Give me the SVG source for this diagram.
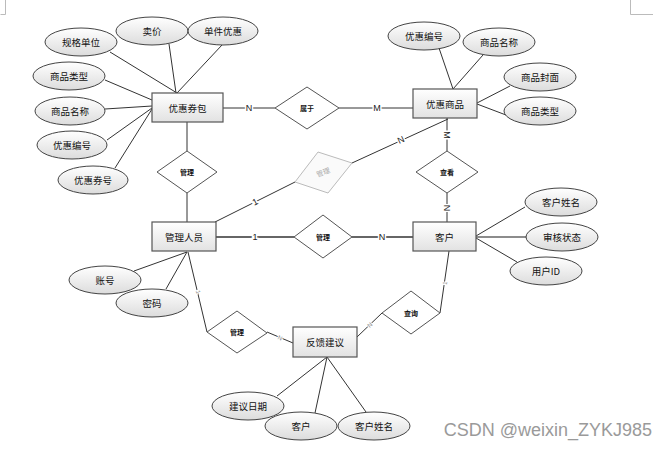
<svg xmlns="http://www.w3.org/2000/svg" width="669" height="449" viewBox="0 0 669 449">
<defs>
<linearGradient id="gE" x1="0" y1="0" x2="0" y2="1"><stop offset="0" stop-color="#ffffff"/><stop offset="1" stop-color="#dcdcdc"/></linearGradient>
<linearGradient id="gR" x1="0" y1="0" x2="0" y2="1"><stop offset="0" stop-color="#ffffff"/><stop offset="1" stop-color="#e2e2e2"/></linearGradient>
<style>
.ent{fill:url(#gR);stroke:#555;stroke-width:1.2}
.att{fill:url(#gE);stroke:#444;stroke-width:1}
.rel{fill:#fff;stroke:#555;stroke-width:1}
.relg{fill:#fafafa;stroke:#bbb;stroke-width:1}
.t{font-family:"Noto Sans CJK SC","Noto Sans",sans-serif;font-size:9.5px;fill:#111;text-anchor:middle;dominant-baseline:central}
.tr{font-family:"Noto Sans CJK SC","Noto Sans",sans-serif;font-size:7px;font-weight:bold;fill:#111;text-anchor:middle;dominant-baseline:central}
.lb{font-family:"Liberation Sans",Arial,sans-serif;font-size:9px;fill:#222;text-anchor:middle;dominant-baseline:central;stroke:#fff;stroke-width:3;paint-order:stroke}
.lbs{font-family:"Liberation Sans",Arial,sans-serif;font-size:6px;fill:#888;text-anchor:middle;dominant-baseline:central;stroke:#fff;stroke-width:2;paint-order:stroke}
.c line{stroke:#333;stroke-width:1}
</style>
</defs>
<rect width="669" height="449" fill="#fff"/>
<g id="corners" stroke="#bbb" stroke-width="1" fill="none">
<polyline points="0.5,14.5 5.5,14.5 5.5,0"/>
<polyline points="630.5,0 630.5,14.5 653,14.5"/>
</g>
<g id="connectors" class="c">
<line x1="110" y1="52" x2="177" y2="93"/>
<line x1="169" y1="44" x2="176" y2="93"/>
<line x1="222" y1="45" x2="177" y2="93"/>
<line x1="105" y1="80" x2="152" y2="100"/>
<line x1="105" y1="109" x2="152" y2="106"/>
<line x1="107" y1="140" x2="152" y2="108"/>
<line x1="115" y1="168" x2="152" y2="109"/>
<line x1="223" y1="108" x2="275" y2="108"/>
<line x1="339" y1="108" x2="413" y2="108"/>
<line x1="187" y1="122" x2="187" y2="151"/>
<line x1="187" y1="193" x2="187" y2="222"/>
<line x1="439" y1="48" x2="453" y2="89"/>
<line x1="483" y1="55" x2="453" y2="89"/>
<line x1="510" y1="86" x2="477" y2="103"/>
<line x1="477" y1="104" x2="506" y2="115"/>
<line x1="447" y1="118" x2="447" y2="151"/>
<line x1="352" y1="163" x2="448" y2="119"/>
<line x1="295" y1="182" x2="215" y2="222"/>
<line x1="216" y1="237" x2="294" y2="237" style="stroke-width:1.3"/>
<line x1="352" y1="237" x2="413" y2="237" style="stroke-width:1.3"/>
<line x1="447" y1="193" x2="447" y2="222"/>
<line x1="476" y1="236" x2="525" y2="207"/>
<line x1="476" y1="237" x2="527" y2="237" style="stroke-width:1.5;stroke:#666"/>
<line x1="476" y1="238" x2="517" y2="262"/>
<line x1="449" y1="251" x2="440" y2="313"/>
<line x1="382" y1="313" x2="357" y2="337"/>
<line x1="187" y1="252" x2="134" y2="271"/>
<line x1="187" y1="252" x2="166" y2="289"/>
<line x1="188" y1="252" x2="207" y2="332"/>
<line x1="267" y1="332" x2="293" y2="343"/>
<line x1="327" y1="357" x2="277" y2="396"/>
<line x1="327" y1="357" x2="315" y2="413"/>
<line x1="327" y1="357" x2="366" y2="412"/>
</g>
<g id="labels">
<text class="lb" x="249" y="108">N</text>
<text class="lb" x="377" y="108">M</text>
<text class="lb" transform="translate(447,135) rotate(90)">M</text>
<text class="lb" transform="translate(401,140) rotate(-25)">N</text>
<text class="lb" transform="translate(255,202) rotate(-27)">1</text>
<text class="lb" x="255" y="237">1</text>
<text class="lb" x="382" y="237">N</text>
<text class="lb" transform="translate(447,208) rotate(90)">N</text>
<text class="lbs" transform="translate(445,283) rotate(-82)">1</text>
<text class="lbs" transform="translate(370,325) rotate(-44)">N</text>
<text class="lbs" transform="translate(198,292) rotate(77)">1</text>
<text class="lbs" transform="translate(280,338) rotate(22)">N</text>
</g>
<g id="e-youhuiquanbao"><rect class="ent" x="152" y="93" width="71" height="29"/><text class="t" x="187.5" y="107.5">优惠券包</text></g>
<g id="e-youhuishangpin"><rect class="ent" x="413" y="89" width="64" height="29"/><text class="t" x="445" y="103.5">优惠商品</text></g>
<g id="e-guanlirenyuan"><rect class="ent" x="152" y="222" width="64" height="29"/><text class="t" x="184" y="236.5">管理人员</text></g>
<g id="e-kehu"><rect class="ent" x="413" y="222" width="63" height="29"/><text class="t" x="444.5" y="236.5">客户</text></g>
<g id="e-fankui"><rect class="ent" x="293" y="327" width="64" height="30"/><text class="t" x="325" y="342">反馈建议</text></g>
<g id="r-shuyu"><polygon class="rel" points="275,108 307,87 339,108 307,129"/><text class="tr" x="307" y="108">属于</text></g>
<g id="r-guanli1"><polygon class="rel" points="157,172 187,151 217,172 187,193"/><text class="tr" x="187" y="172">管理</text></g>
<g id="r-guanli-gray"><polygon class="relg" points="318,152 352,163 328,193 295,182"/><text class="tr" style="fill:#aaa;font-weight:normal" transform="translate(323,172) rotate(-20)">管理</text></g>
<g id="r-chakan"><polygon class="rel" points="416,172 447,151 478,172 447,193"/><text class="tr" x="447" y="172">查看</text></g>
<g id="r-guanli2"><polygon class="rel" points="294,237 323,215 352,237 323,258"/><text class="tr" x="323" y="237">管理</text></g>
<g id="r-guanli3"><polygon class="rel" points="207,332 237,311 267,333 237,353"/><text class="tr" x="237" y="332">管理</text></g>
<g id="r-chaxun"><polygon class="rel" points="382,313 411,291 440,313 411,334"/><text class="tr" x="411" y="313">查询</text></g>
<g id="a-guigedanwei"><ellipse class="att" cx="81" cy="42" rx="36" ry="14"/><text class="t" x="81" y="42">规格单位</text></g>
<g id="a-maijia"><ellipse class="att" cx="152" cy="31" rx="36" ry="14"/><text class="t" x="152" y="31">卖价</text></g>
<g id="a-danjianyouhui"><ellipse class="att" cx="223" cy="31" rx="35" ry="14"/><text class="t" x="223" y="31">单件优惠</text></g>
<g id="a-spleixing1"><ellipse class="att" cx="69" cy="76" rx="36" ry="14"/><text class="t" x="69" y="76">商品类型</text></g>
<g id="a-spmingcheng1"><ellipse class="att" cx="70" cy="111" rx="35" ry="14"/><text class="t" x="70" y="111">商品名称</text></g>
<g id="a-yhbianhao1"><ellipse class="att" cx="72" cy="145" rx="35" ry="14"/><text class="t" x="72" y="145">优惠编号</text></g>
<g id="a-yhquanhao"><ellipse class="att" cx="93" cy="180" rx="35" ry="14"/><text class="t" x="93" y="180">优惠券号</text></g>
<g id="a-yhbianhao2"><ellipse class="att" cx="424" cy="36" rx="36" ry="14"/><text class="t" x="424" y="36">优惠编号</text></g>
<g id="a-spmingcheng2"><ellipse class="att" cx="499" cy="42" rx="36" ry="14"/><text class="t" x="499" y="42">商品名称</text></g>
<g id="a-spfengmian"><ellipse class="att" cx="540" cy="77" rx="36" ry="14"/><text class="t" x="540" y="77">商品封面</text></g>
<g id="a-spleixing2"><ellipse class="att" cx="540" cy="111" rx="36" ry="14"/><text class="t" x="540" y="111">商品类型</text></g>
<g id="a-kehuxingming"><ellipse class="att" cx="561" cy="202" rx="36" ry="14"/><text class="t" x="561" y="202">客户姓名</text></g>
<g id="a-shenhezhuangtai"><ellipse class="att" cx="562" cy="237" rx="36" ry="14"/><text class="t" x="562" y="237">审核状态</text></g>
<g id="a-yonghuid"><ellipse class="att" cx="546" cy="271" rx="36" ry="14"/><text class="t" x="546" y="271">用户ID</text></g>
<g id="a-zhanghao"><ellipse class="att" cx="105" cy="280" rx="36" ry="14"/><text class="t" x="105" y="280">账号</text></g>
<g id="a-mima"><ellipse class="att" cx="152" cy="303" rx="36" ry="14"/><text class="t" x="152" y="303">密码</text></g>
<g id="a-jianyiriqi"><ellipse class="att" cx="248" cy="406" rx="36" ry="14"/><text class="t" x="248" y="406">建议日期</text></g>
<g id="a-kehu"><ellipse class="att" cx="301" cy="426" rx="36" ry="14"/><text class="t" x="301" y="426">客户</text></g>
<g id="a-kehuxingming2"><ellipse class="att" cx="374" cy="426" rx="36" ry="14"/><text class="t" x="374" y="426">客户姓名</text></g>
<text x="652" y="430" style="font-family:'Liberation Sans',Arial,sans-serif;font-size:18px;fill:#9a9a9a;text-anchor:end;dominant-baseline:central">CSDN @weixin_ZYKJ985</text>
</svg>
